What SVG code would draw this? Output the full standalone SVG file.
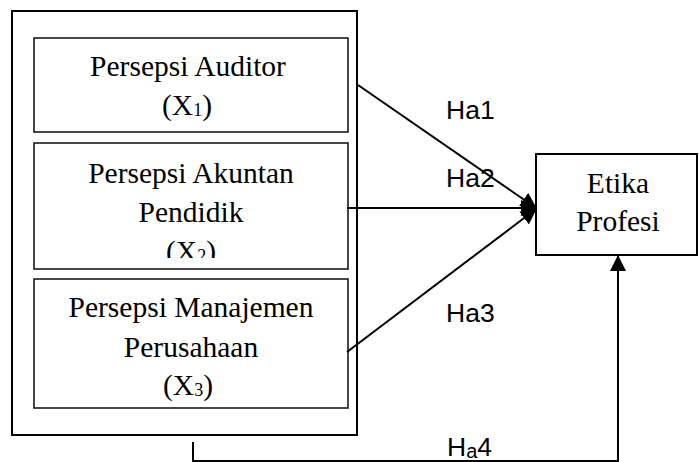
<svg xmlns="http://www.w3.org/2000/svg" width="699" height="462" viewBox="0 0 699 462">
<style>
.box{fill:#fff;stroke:#000;stroke-width:2}
.inner{fill:#fff;stroke:#1a1a1a;stroke-width:1.6}
.t{font-family:"Liberation Serif","Times New Roman",serif;font-size:29.5px;fill:#000;text-anchor:middle}
.sub{font-size:18px}
.lab{font-family:"Liberation Sans",Arial,sans-serif;font-size:26.5px;fill:#000}
.con{fill:none;stroke:#000;stroke-width:2}
</style>
<defs>
<marker id="ah" markerUnits="userSpaceOnUse" markerWidth="16" markerHeight="16" viewBox="0 0 16 16" refX="15" refY="8" orient="auto">
<path d="M0,0 L16,8 L0,16 Z" fill="#000"/>
</marker>
<clipPath id="clip2"><rect x="34" y="143" width="314" height="115"/></clipPath>
</defs>
<g id="outer"><rect class="box" x="12" y="11" width="345" height="424"/></g>
<g id="x1">
<rect class="inner" x="34" y="38" width="314" height="94"/>
<text class="t" x="188" y="76">Persepsi Auditor</text>
<text class="t" x="187" y="115">(X<tspan class="sub" dy="1">1</tspan><tspan dy="-1">)</tspan></text>
</g>
<g id="x2">
<rect class="inner" x="34" y="143" width="314" height="126"/>
<text class="t" x="191" y="183">Persepsi Akuntan</text>
<text class="t" x="191" y="222">Pendidik</text>
<text class="t" x="191" y="261" clip-path="url(#clip2)">(X<tspan class="sub" dy="1">2</tspan><tspan dy="-1">)</tspan></text>
</g>
<g id="x3">
<rect class="inner" x="34" y="279" width="314" height="129"/>
<text class="t" x="191" y="317">Persepsi Manajemen</text>
<text class="t" x="191" y="357">Perusahaan</text>
<text class="t" x="188" y="395">(X<tspan class="sub" dy="1">3</tspan><tspan dy="-1">)</tspan></text>
</g>
<g id="y">
<rect class="box" x="536" y="154" width="161" height="101"/>
<text class="t" x="618" y="193">Etika</text>
<text class="t" x="618" y="231">Profesi</text>
</g>
<g id="connectors">
<line class="con" x1="358" y1="85" x2="536" y2="208" marker-end="url(#ah)"/>
<line class="con" x1="347" y1="208" x2="536" y2="208" marker-end="url(#ah)"/>
<line class="con" x1="347" y1="352" x2="536" y2="209" marker-end="url(#ah)"/>
<polyline class="con" points="193,442 193,461 618,461 618,256" marker-end="url(#ah)"/>
</g>
<g id="labels">
<text class="lab" x="446" y="119">Ha1</text>
<text class="lab" x="446" y="187">Ha2</text>
<text class="lab" x="446" y="322">Ha3</text>
<text class="lab" x="447" y="456">H<tspan font-size="20" dy="2">a</tspan><tspan dy="-2">4</tspan></text>
</g>
</svg>
